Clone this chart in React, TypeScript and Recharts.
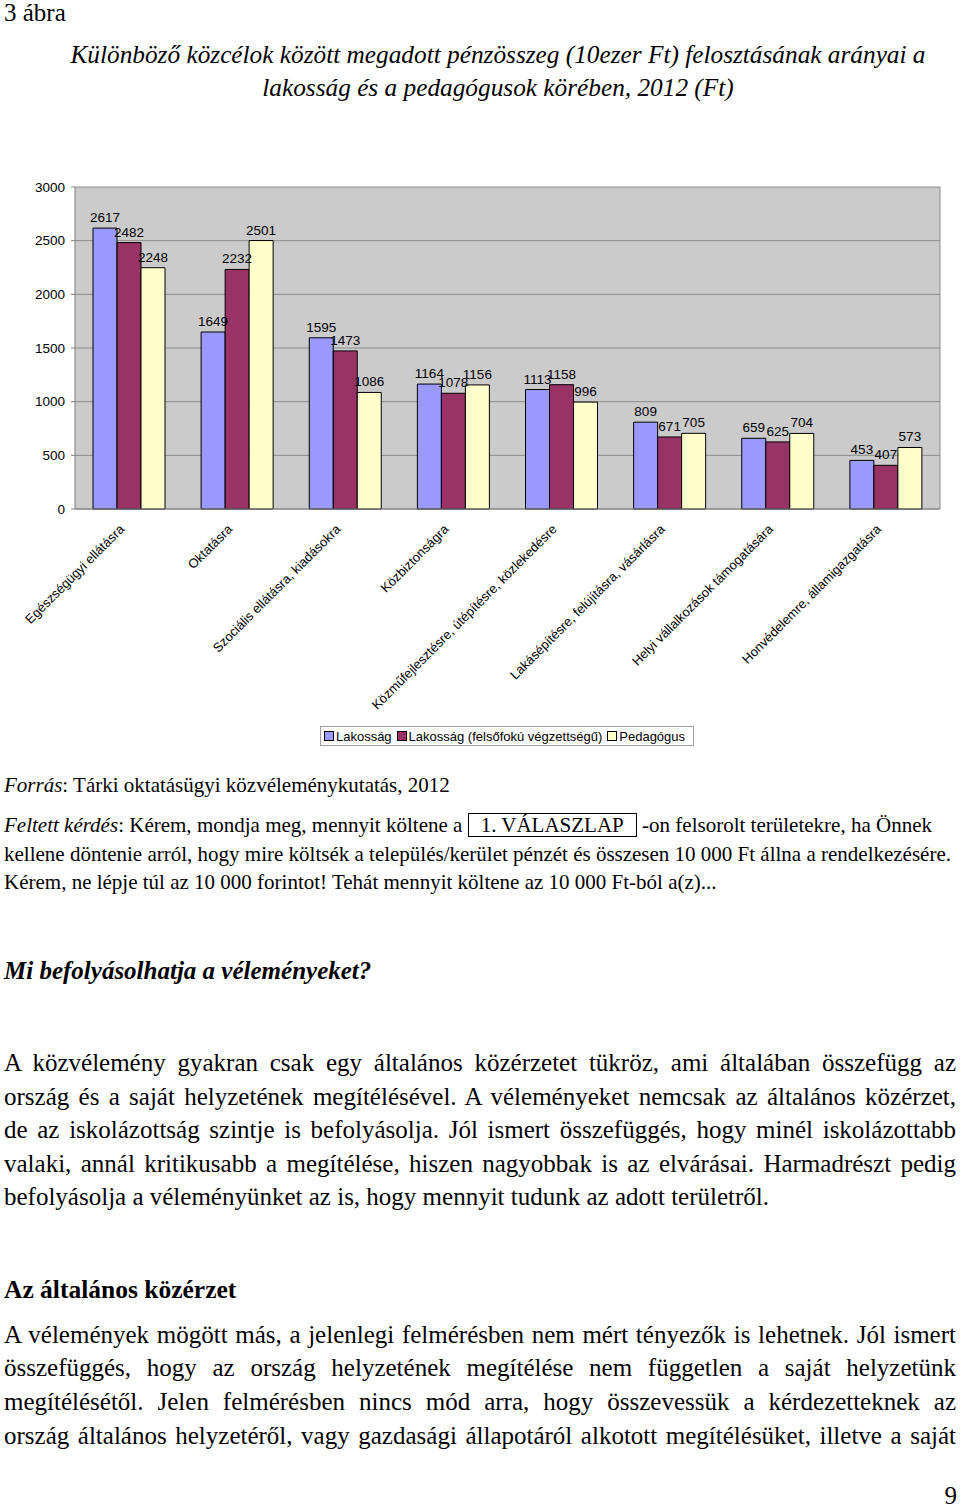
import React from "react";
import { Bar, BarChart, CartesianGrid, LabelList, Legend, XAxis, YAxis } from "recharts";

const categories = [
  "Egészségügyi ellátásra",
  "Oktatásra",
  "Szociális ellátásra, kiadásokra",
  "Közbiztonságra",
  "Közműfejlesztésre, útépítésre, közlekedésre",
  "Lakásépítésre, felújításra, vásárlásra",
  "Helyi vállalkozások támogatására",
  "Honvédelemre, államigazgatásra",
];
const lakossag = [2617, 1649, 1595, 1164, 1113, 809, 659, 453];
const felsofoku = [2482, 2232, 1473, 1078, 1158, 671, 625, 407];
const pedagogus = [2248, 2501, 1086, 1156, 996, 705, 704, 573];
const yTicks = [0, 500, 1000, 1500, 2000, 2500, 3000];

const series = [
  { key: "lakossag", name: "Lakosság", color: "#9999ff" },
  { key: "felsofoku", name: "Lakosság (felsőfokú végzettségű)", color: "#993366" },
  { key: "pedagogus", name: "Pedagógus", color: "#ffffcc" },
];

const data = categories.map((name, i) => ({
  name,
  lakossag: lakossag[i],
  felsofoku: felsofoku[i],
  pedagogus: pedagogus[i],
}));

const SANS = "'Liberation Sans', Arial, sans-serif";
const SERIF = "'Liberation Serif', 'Times New Roman', serif";
const labelStyle = { fill: "#000", fontSize: 13.5, fontFamily: SANS };

// rotated category labels, text ends just left of the band centre
function CatTick({ x, y, payload }: any) {
  return (
    <g transform={`translate(${x - 4},${y + 13}) rotate(-45)`}>
      <text x={0} y={0} textAnchor="end" fill="#000" fontSize={13} fontFamily={SANS}>
        {payload.value}
      </text>
    </g>
  );
}

function LegendBox() {
  return (
    <div
      style={{
        border: "1px solid #a0a0a0",
        background: "#fff",
        height: 18,
        display: "flex",
        alignItems: "center",
        justifyContent: "center",
        fontFamily: SANS,
        fontSize: 13,
        color: "#000",
        whiteSpace: "nowrap",
      }}
    >
      {series.map((s) => (
        <span key={s.key} style={{ display: "inline-flex", alignItems: "center", marginRight: 5 }}>
          <span style={{ width: 8, height: 8, background: s.color, border: "1px solid #000", marginRight: 2 }} />
          {s.name}
        </span>
      ))}
    </div>
  );
}

// one text line; cy = visual centre of the line in page pixels
function Line({
  cy,
  size,
  children,
  left = 4,
  width,
  justify = false,
  center = false,
  style = {},
}: any) {
  return (
    <div
      style={{
        position: "absolute",
        top: cy - size * 0.6,
        left,
        width,
        fontFamily: SERIF,
        fontSize: size,
        lineHeight: 1.15,
        whiteSpace: "nowrap",
        textAlign: center ? "center" : justify ? "justify" : "left",
        textAlignLast: center ? "center" : justify ? "justify" : "left",
        color: "#000",
        ...style,
      }}
    >
      {children}
    </div>
  );
}

const para1 = [
  "A közvélemény gyakran csak egy általános közérzetet tükröz, ami általában összefügg az",
  "ország és a saját helyzetének megítélésével. A véleményeket nemcsak az általános közérzet,",
  "de az iskolázottság szintje is befolyásolja. Jól ismert összefüggés, hogy minél iskolázottabb",
  "valaki, annál kritikusabb a megítélése, hiszen nagyobbak is az elvárásai. Harmadrészt pedig",
  "befolyásolja a véleményünket az is, hogy mennyit tudunk az adott területről.",
];
const para1Y = [1064, 1098, 1131, 1165, 1198];
const para2 = [
  "A vélemények mögött más, a jelenlegi felmérésben nem mért tényezők is lehetnek. Jól ismert",
  "összefüggés, hogy az ország helyzetének megítélése nem független a saját helyzetünk",
  "megítélésétől. Jelen felmérésben nincs mód arra, hogy összevessük a kérdezetteknek az",
  "ország általános helyzetéről, vagy gazdasági állapotáról alkotott megítélésüket, illetve a saját",
];
const para2Y = [1336, 1369, 1403, 1437];

export default function App() {
  return (
    <div style={{ position: "absolute", left: 0, top: 0, width: 960, height: 1509, background: "#fff" }}>
      <Line cy={14} size={25}>3 ábra</Line>
      <Line cy={55} size={25.3} left={0} width={996} center style={{ fontStyle: "italic" }}>
        Különböző közcélok között megadott pénzösszeg (10ezer Ft) felosztásának arányai a
      </Line>
      <Line cy={88} size={25.3} left={0} width={996} center style={{ fontStyle: "italic" }}>
        lakosság és a pedagógusok körében, 2012 (Ft)
      </Line>

      <div style={{ position: "absolute", left: 0, top: 0 }}>
        <BarChart
          width={960}
          height={760}
          data={data}
          margin={{ top: 187, right: 19, bottom: 11, left: 15 }}
          barCategoryGap={18}
          barGap={0}
        >
          <CartesianGrid vertical={false} stroke="#8c8c8c" fill="#cbcbcb" />
          <XAxis
            dataKey="name"
            height={240}
            interval={0}
            tick={<CatTick />}
            tickLine={false}
            axisLine={{ stroke: "#808080" }}
          />
          <YAxis
            domain={[0, 3000]}
            ticks={yTicks}
            width={60}
            tick={labelStyle}
            tickSize={4}
            tickMargin={6}
            tickLine={{ stroke: "#808080" }}
            axisLine={{ stroke: "#808080" }}
          />
          <YAxis
            yAxisId="r"
            orientation="right"
            domain={[0, 3000]}
            width={1}
            tick={false}
            tickLine={false}
            axisLine={{ stroke: "#8c8c8c" }}
          />
          <Legend
            layout="horizontal"
            verticalAlign="middle"
            align="center"
            content={<LegendBox />}
            wrapperStyle={{ position: "absolute", top: 726, left: 320, width: 374, height: 20 }}
          />
          {series.map((s) => (
            <Bar key={s.key} dataKey={s.key} name={s.name} fill={s.color} stroke="#000" strokeWidth={1} isAnimationActive={false}>
              <LabelList dataKey={s.key} position="top" offset={6} style={labelStyle} />
            </Bar>
          ))}
        </BarChart>
      </div>

      <Line cy={786} size={21}>
        <i>Forrás</i>: Tárki oktatásügyi közvéleménykutatás, 2012
      </Line>
      <Line cy={826} size={21} width={928} justify>
        <i>Feltett kérdés</i>: Kérem, mondja meg, mennyit költene a{" "}
        <span style={{ border: "1px solid #000", padding: "0 12px", display: "inline-block", lineHeight: 1.05 }}>
          1. VÁLASZLAP
        </span>{" "}
        -on felsorolt területekre, ha Önnek
      </Line>
      <Line cy={855} size={21} width={947} justify>
        kellene döntenie arról, hogy mire költsék a település/kerület pénzét és összesen 10 000 Ft állna a rendelkezésére.
      </Line>
      <Line cy={883} size={21}>
        Kérem, ne lépje túl az 10 000 forintot! Tehát mennyit költene az 10 000 Ft-ból a(z)...
      </Line>

      <Line cy={972} size={25} style={{ fontWeight: "bold", fontStyle: "italic" }}>
        Mi befolyásolhatja a véleményeket?
      </Line>
      {para1.map((t, i) => (
        <Line key={i} cy={para1Y[i]} size={25} width={952} justify={i < para1.length - 1}>
          {t}
        </Line>
      ))}

      <Line cy={1290} size={25.5} style={{ fontWeight: "bold" }}>
        Az általános közérzet
      </Line>
      {para2.map((t, i) => (
        <Line key={i} cy={para2Y[i]} size={25} width={952} justify>
          {t}
        </Line>
      ))}

      <Line cy={1497} size={25} left={940} width={17} style={{ textAlign: "right", textAlignLast: "right" }}>
        9
      </Line>
    </div>
  );
}
